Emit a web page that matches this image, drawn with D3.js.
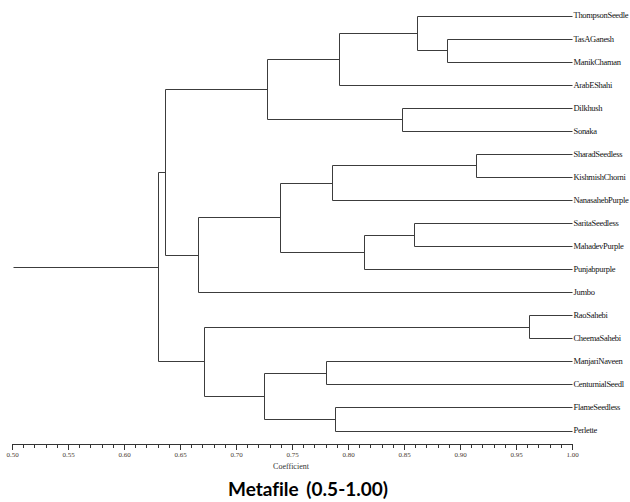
<!DOCTYPE html>
<html lang="en">
<head>
  <meta charset="UTF-8" />
  <title>Metafile (0.5-1.00) dendrogram</title>
  <script src="https://d3js.org/d3.v7.min.js"></script>
  <style>
    body { margin: 0; background: #fff; }
    svg { display: block; }
    .branch { fill: none; stroke: #3c3c3c; stroke-width: 1px; }
    .leaf-label { font-family: "Liberation Serif", serif; font-size: 8.5px; letter-spacing: -0.3px; fill: #111; }
    .axis path, .axis line { stroke: #333; shape-rendering: crispEdges; }
    .axis text { font-family: "Liberation Serif", serif; font-size: 7px; fill: #4a3a30; }
  </style>
</head>
<body>
  <svg width="630" height="502"></svg>
  <script>
    // cultivars, top to bottom
    const leaves = [
      "ThompsonSeedle", "TasAGanesh", "ManikChaman", "ArabEShahi", "Dilkhush", "Sonaka",
      "SharadSeedless", "KishmishChorni", "NanasahebPurple", "SaritaSeedless", "MahadevPurple",
      "Punjabpurple", "Jumbo", "RaoSahebi", "CheemaSahebi", "ManjariNaveen",
      "CenturnialSeedl", "FlameSeedless", "Perlette"
    ];

    // merges: [a, b, coefficient]; ids >= leaves.length point at earlier merges
    const merges = [
      [13, 14, 0.962],  // 19
      [6, 7, 0.914],    // 20
      [1, 2, 0.888],    // 21
      [0, 21, 0.862],   // 22
      [9, 10, 0.859],   // 23
      [4, 5, 0.848],    // 24
      [23, 11, 0.814],  // 25
      [22, 3, 0.792],   // 26
      [17, 18, 0.788],  // 27
      [20, 8, 0.786],   // 28
      [15, 16, 0.780],  // 29
      [28, 25, 0.739],  // 30
      [26, 24, 0.728],  // 31
      [29, 27, 0.725],  // 32
      [30, 12, 0.666],  // 33
      [19, 32, 0.671],  // 34
      [31, 33, 0.637],  // 35
      [35, 34, 0.630]   // 36
    ];

    const axisTicks = [0.50, 0.55, 0.60, 0.65, 0.70, 0.75, 0.80, 0.85, 0.90, 0.95, 1.00];
    const leafLevel = 1.0;
    const rootStart = 0.501;

    const svg = d3.select("svg");
    const x = d3.scaleLinear().domain([0.5, 1.0]).range([12, 572]);
    const y = d3.scalePoint().domain(leaves).range([15.5, 430.5]);

    // build nested nodes
    const nodes = leaves.map(n => ({ name: n, h: leafLevel }));
    merges.forEach(([a, b, h]) => nodes.push({ h: h, children: [nodes[a], nodes[b]] }));
    const root = d3.hierarchy(nodes[nodes.length - 1]);

    root.eachAfter(d => {
      d.px = x(d.data.h);
      d.py = d.children ? d3.mean(d.children, c => c.py) : y(d.data.name);
    });

    const g = svg.append("g");
    const snap = v => Math.round(v) + 0.5;

    // elbow branches
    root.descendants().filter(d => d.children).forEach(d => {
      const [c1, c2] = d.children;
      g.append("path").attr("class", "branch")
        .attr("d", `M${snap(c1.px)},${snap(c1.py)}H${snap(d.px)}V${snap(c2.py)}H${snap(c2.px)}`);
    });
    g.append("path").attr("class", "branch")
      .attr("d", `M${snap(x(rootStart))},${snap(root.py)}H${snap(root.px)}`);

    g.selectAll(".leaf-label")
      .data(root.leaves())
      .join("text")
      .attr("class", "leaf-label")
      .attr("x", d => d.px + 1.5)
      .attr("y", d => d.py)
      .attr("dy", "0.35em")
      .text(d => d.data.name);

    // axis: minor ticks every 0.01, labelled every 0.05
    const axisY = 443.5;
    svg.append("g").attr("class", "axis")
      .attr("transform", `translate(0,${axisY})`)
      .call(d3.axisBottom(x).tickValues(d3.range(50, 101).map(v => v / 100))
        .tickSize(4).tickSizeOuter(0).tickFormat(""));
    svg.append("g").attr("class", "axis")
      .attr("transform", `translate(0,${axisY})`)
      .call(d3.axisBottom(x).tickValues(axisTicks)
        .tickSize(6).tickSizeOuter(0).tickPadding(3).tickFormat(d3.format(".2f")))
      .call(a => a.select(".domain").remove());

    svg.append("text")
      .attr("x", 291).attr("y", 469)
      .attr("text-anchor", "middle")
      .style("font-family", "Liberation Serif, serif")
      .style("font-size", "8px")
      .style("fill", "#333")
      .text("Coefficient");

    svg.append("text")
      .attr("x", 308).attr("y", 496)
      .attr("text-anchor", "middle")
      .style("font-family", "Lato, sans-serif")
      .style("font-weight", "bold")
      .style("font-size", "19px")
      .style("word-spacing", "3px")
      .style("font-variant-ligatures", "none")
      .style("fill", "#000")
      .text("Metafile (0.5-1.00)");
  </script>
</body>
</html>
